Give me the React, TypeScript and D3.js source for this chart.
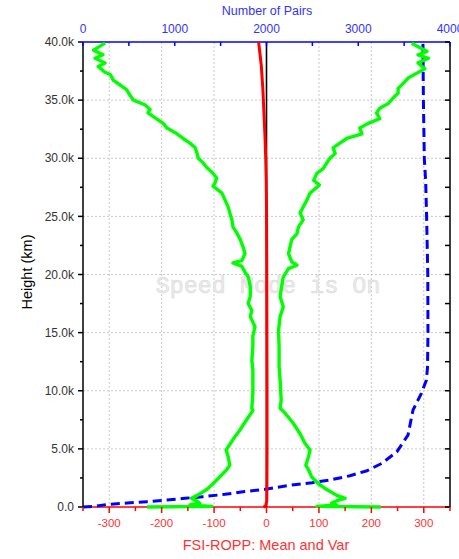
import React from "react";
import * as d3 from "d3";

// ---- data ----
const leftH = [39.9, 39.3, 38.9, 38.6, 38.2, 37.9, 37.4, 37.2, 36.7, 36.3, 35.9, 35.4, 35.0, 34.6, 34.2, 33.9, 33.5, 33.0, 32.6, 32.2, 31.7, 31.3, 30.9, 30.5, 30.0, 29.6, 29.2, 28.8, 28.3, 27.9, 27.6, 27.0, 26.4, 25.8, 25.3, 24.7, 24.1, 23.6, 23.0, 22.4, 21.8, 21.2, 21.0, 20.7, 20.2, 19.8, 19.0, 18.1, 17.5, 16.9, 16.4, 15.5, 14.7, 13.8, 12.6, 11.8, 10.9, 9.8, 8.5, 8.3, 7.5, 6.6, 5.8, 4.9, 4.3, 3.6, 3.2, 2.6, 2.0, 1.5, 1.0, 0.75, 0.54, 0.32, 0.17, 0.05, 0.0];
const leftV = [-308, -330, -312, -327, -308, -321, -308, -298, -292, -279, -267, -260, -254, -232, -222, -226, -213, -197, -190, -174, -159, -146, -136, -133, -130, -121, -114, -104, -95, -98, -102, -85, -79, -73, -70, -66, -64, -57, -50, -45, -41, -47, -64, -47, -41, -35, -31, -31, -35, -28, -31, -22, -26, -26, -28, -26, -26, -26, -28, -26, -38, -51, -64, -77, -73, -70, -76, -89, -102, -114, -132, -143, -134, -127, -146, -104, -228];

const rightH = [39.9, 39.5, 39.2, 38.9, 38.6, 38.2, 37.7, 37.3, 36.9, 36.4, 36.0, 35.6, 35.2, 34.7, 34.3, 33.9, 33.4, 33.0, 32.6, 32.1, 31.7, 31.3, 30.9, 30.4, 30.0, 29.6, 29.1, 28.7, 28.1, 27.7, 27.0, 26.4, 25.8, 25.3, 24.7, 24.1, 23.5, 23.0, 22.4, 21.8, 21.1, 20.8, 20.5, 19.8, 19.0, 18.1, 17.2, 16.4, 15.2, 13.8, 12.1, 10.9, 9.2, 8.5, 8.1, 7.2, 6.3, 5.5, 4.9, 4.3, 3.6, 3.2, 2.6, 2.0, 1.5, 1.0, 0.75, 0.54, 0.32, 0.17, 0.05, 0.0];
const rightV = [277, 293, 306, 289, 309, 289, 302, 286, 270, 260, 251, 251, 242, 232, 216, 210, 216, 194, 178, 182, 153, 140, 127, 131, 121, 115, 108, 96, 90, 101, 83, 77, 70, 64, 70, 61, 58, 48, 45, 42, 48, 58, 42, 32, 29, 26, 32, 26, 23, 24, 24, 26, 28, 26, 35, 51, 64, 73, 83, 80, 75, 80, 86, 99, 115, 134, 150, 134, 124, 134, 96, 218];

const meanH = [40, 38, 36, 34, 32, 30, 28, 26, 20, 10, 5, 2, 0.5, 0.2, 0.05, 0];
const meanV = [-15, -10, -7, -5, -3, -1.5, -0.5, 0, 0.5, 1, 1, 0.8, 0.5, -1, -3, -6];

const pairsH = [0, 0.04, 0.22, 0.34, 0.46, 0.6, 0.75, 0.89, 1.09, 1.32, 1.5, 1.89, 2.09, 2.32, 2.69, 3.12, 3.76, 4.76, 6.19, 8.34, 9.78, 10.9, 12, 15, 20, 25, 28, 30, 35, 40];
const pairsV = [0, 109, 262, 480, 698, 916, 1112, 1308, 1548, 1744, 1962, 2278, 2496, 2692, 2910, 3095, 3259, 3422, 3542, 3597, 3688, 3742, 3755, 3760, 3758, 3745, 3735, 3720, 3710, 3705];

const bottomTicks = [-300, -200, -100, 0, 100, 200, 300];
const topTicks = [0, 1000, 2000, 3000, 4000];
const leftTicks = [0, 5000, 10000, 15000, 20000, 25000, 30000, 35000, 40000];

export default function App() {
  const L = 83, R = 450, T = 42, B = 507;
  const x = d3.scaleLinear().domain([-350, 350]).range([L, R]);
  const xTop = d3.scaleLinear().domain([0, 4000]).range([L, R]);
  const y = d3.scaleLinear().domain([0, 40000]).range([B, T]);

  const line = d3.line<[number, number]>().x(d => d[0]).y(d => d[1]);
  const leftPath = line(leftH.map((h, i) => [x(leftV[i]), y(h * 1000)]));
  const rightPath = line(rightH.map((h, i) => [x(rightV[i]), y(h * 1000)]));
  const meanPath = line(meanH.map((h, i) => [x(meanV[i]), y(h * 1000)]));
  const pairsPath = line(pairsH.map((h, i) => [xTop(pairsV[i]), y(h * 1000)]));

  const bottomMinor = d3.range(-350, 351, 50);
  const topMinor = d3.range(0, 4001, 500);
  const leftMinor = d3.range(0, 40001, 2500);
  const font = "Arial, 'Liberation Sans', sans-serif";
  const fmtK = (v: number) => (v === 0 ? "0.0" : (v / 1000).toFixed(1) + "k");

  return (
    <svg width={459} height={559} style={{ position: "absolute", left: 0, top: 0, background: "#fff" }} fontFamily={font}>
      <rect x={0} y={0} width={459} height={559} fill="#fff" />
      {/* grid */}
      {bottomTicks.filter(v => v !== 0).map(v => (
        <line key={"gx" + v} x1={x(v)} x2={x(v)} y1={T} y2={B} stroke="#c8c8c8" strokeWidth={1} strokeDasharray="2,2" />
      ))}
      {leftTicks.filter(v => v !== 0 && v !== 40000).map(v => (
        <line key={"gy" + v} x1={L} x2={R} y1={y(v)} y2={y(v)} stroke="#c8c8c8" strokeWidth={1} strokeDasharray="2,2" />
      ))}
      {/* watermark */}
      <text x={268} y={293} textAnchor="middle" fontFamily="'Liberation Mono', 'DejaVu Sans Mono', monospace" fontSize={23.4} fill="#ececec" stroke="#d6d6d6" strokeWidth={0.5}>Speed Mode is On</text>
      {/* axes frame */}
      <line x1={L} x2={L} y1={T} y2={B} stroke="#000" strokeWidth={1.5} />
      <line x1={R} x2={R} y1={T} y2={B} stroke="#000" strokeWidth={1.5} />
      <line x1={L} x2={R} y1={T} y2={T} stroke="#0000ff" strokeWidth={1.5} />
      <line x1={L} x2={R} y1={B} y2={B} stroke="#ff0000" strokeWidth={1.5} />
      {/* zero line */}
      <line x1={x(0)} x2={x(0)} y1={T} y2={B} stroke="#000" strokeWidth={1.6} />
      {/* data */}
      <path d={pairsPath || ""} fill="none" stroke="#0000ff" strokeWidth={3} strokeDasharray="9,5" />
      <path d={leftPath || ""} fill="none" stroke="#00ff00" strokeWidth={3.4} strokeLinejoin="round" />
      <path d={rightPath || ""} fill="none" stroke="#00ff00" strokeWidth={3.4} strokeLinejoin="round" />
      <path d={meanPath || ""} fill="none" stroke="#ff0000" strokeWidth={3} />
      {/* left ticks */}
      {leftMinor.map(v => (
        <line key={"lt" + v} x1={L} x2={L - (v % 5000 === 0 ? 5 : 3)} y1={y(v)} y2={y(v)} stroke="#000" strokeWidth={1.5} />
      ))}
      {leftMinor.map(v => (
        <line key={"rt" + v} x1={R} x2={R - 5} y1={y(v)} y2={y(v)} stroke="#000" strokeWidth={1.5} />
      ))}
      {leftTicks.map(v => (
        <text key={"ll" + v} x={74} y={y(v) + 4.2} textAnchor="end" fontSize={12} fill="#333">{fmtK(v)}</text>
      ))}
      {/* bottom ticks */}
      {bottomMinor.map(v => (
        <line key={"bt" + v} x1={x(v)} x2={x(v)} y1={B} y2={B + (v % 100 === 0 ? 6 : 4)} stroke="#ff0000" strokeWidth={1.5} />
      ))}
      {bottomTicks.map(v => (
        <text key={"bl" + v} x={x(v)} y={527} textAnchor="middle" fontSize={11.5} fill="#ff3333">{v}</text>
      ))}
      {/* top ticks */}
      {topMinor.map(v => (
        <line key={"tt" + v} x1={xTop(v)} x2={xTop(v)} y1={T} y2={T + 4} stroke="#0000ff" strokeWidth={1.5} />
      ))}
      {topTicks.map(v => (
        <text key={"tl" + v} x={xTop(v)} y={33} textAnchor="middle" fontSize={12} fill="#3333ff">{v}</text>
      ))}
      {/* titles */}
      <text x={267} y={15} textAnchor="middle" fontSize={12.5} fill="#3333ff">Number of Pairs</text>
      <text x={266} y={550} textAnchor="middle" fontSize={14.5} fill="#ff3333">FSI-ROPP: Mean and Var</text>
      <text transform="translate(32,272) rotate(-90)" textAnchor="middle" fontSize={14.5} fill="#000">Height (km)</text>
    </svg>
  );
}
